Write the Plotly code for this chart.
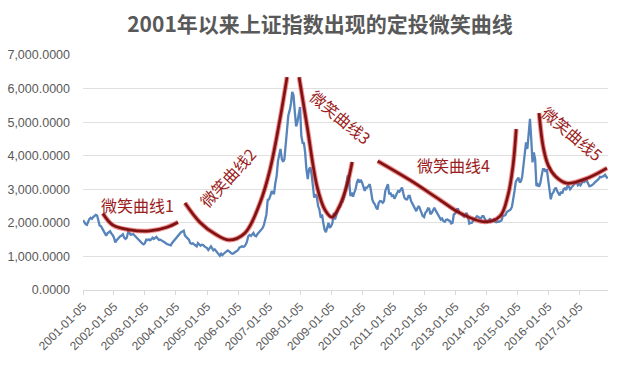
import plotly.graph_objects as go

# Shanghai Composite, semi-monthly readings (5th and 20th of each month)
sh_2001 = [2080, 2010, 1960, 1940, 2050, 2110, 2150, 2120, 2170, 2210, 2240, 2220,
           2100, 1920, 1900, 1830, 1780, 1720, 1620, 1690, 1720, 1750, 1680, 1640]
sh_2002 = [1560, 1420, 1480, 1525, 1560, 1600, 1620, 1660, 1560, 1520, 1560, 1730,
           1700, 1650, 1660, 1670, 1620, 1580, 1530, 1500, 1470, 1420, 1380, 1360]
sh_2003 = [1400, 1500, 1490, 1510, 1480, 1510, 1560, 1520, 1550, 1580, 1530, 1490,
           1500, 1480, 1450, 1420, 1400, 1370, 1360, 1350, 1330, 1400, 1450, 1500]
sh_2004 = [1550, 1590, 1650, 1680, 1720, 1740, 1770, 1620, 1580, 1560, 1500, 1400,
           1380, 1390, 1350, 1340, 1300, 1400, 1370, 1320, 1350, 1340, 1300, 1270]
sh_2005 = [1250, 1190, 1250, 1300, 1250, 1180, 1210, 1160, 1110, 1060, 1020, 1080,
           1040, 1080, 1120, 1160, 1180, 1155, 1110, 1090, 1080, 1100, 1120, 1160]
sh_2006 = [1190, 1260, 1280, 1300, 1290, 1300, 1350, 1440, 1600, 1640, 1610, 1670,
           1700, 1620, 1600, 1660, 1700, 1750, 1800, 1840, 1930, 2100, 2250, 2680]
sh_2007 = [2700, 2800, 2950, 2880, 2880, 3180, 3400, 3840, 4050, 4200, 3900, 3820,
           3900, 4400, 4700, 5200, 5350, 5550, 5900, 5800, 5300, 4870, 5000, 5260]
sh_2008 = [5450, 4600, 4380, 4370, 4100, 3600, 3300, 3600, 3650, 3450, 3050, 2750,
           2850, 2780, 2500, 2400, 2150, 2250, 2000, 1800, 1720, 1900, 2000, 1850]
sh_2009 = [1900, 1990, 2300, 2100, 2200, 2370, 2450, 2480, 2600, 2630, 2750, 2960,
           3200, 3410, 3300, 2800, 2900, 2780, 2900, 3000, 3200, 3300, 3200, 3280]
sh_2010 = [3200, 3100, 2950, 3050, 3050, 3100, 3150, 2950, 2700, 2600, 2550, 2450,
           2400, 2600, 2650, 2640, 2600, 2650, 2950, 3050, 3150, 2850, 2900, 2800]
sh_2011 = [2820, 2720, 2800, 2900, 2950, 2930, 2990, 3050, 2880, 2740, 2700, 2700,
           2800, 2800, 2650, 2570, 2500, 2400, 2350, 2450, 2500, 2400, 2300, 2200]
sh_2012 = [2170, 2300, 2350, 2430, 2420, 2260, 2300, 2400, 2450, 2370, 2300, 2230,
           2170, 2100, 2130, 2050, 2030, 2090, 2100, 2070, 2050, 1980, 2000, 2250]
sh_2013 = [2280, 2380, 2430, 2330, 2300, 2240, 2200, 2180, 2220, 2300, 2180, 1980,
           2000, 2000, 2060, 2100, 2150, 2200, 2180, 2140, 2130, 2200, 2200, 2100]
sh_2014 = [2050, 2020, 2070, 2130, 2030, 2050, 2100, 2030, 2020, 2040, 2030, 2040,
           2070, 2200, 2220, 2230, 2320, 2340, 2370, 2400, 2480, 2680, 2950, 3230]
sh_2015 = [3300, 3350, 3200, 3250, 3370, 3690, 4000, 4400, 4200, 4600, 5100, 4500,
           3800, 4100, 3900, 3100, 3150, 3080, 3180, 3400, 3600, 3600, 3520, 3600]
sh_2016 = [3300, 2900, 2700, 2860, 2900, 3000, 3050, 2950, 2900, 2820, 2930, 2880,
           3000, 3030, 2980, 3100, 3080, 3000, 3050, 3100, 3150, 3200, 3230, 3120]
sh_2017 = [3160, 3120, 3200, 3250, 3220, 3250, 3250, 3170, 3090, 3100, 3120, 3150,
           3200, 3240, 3250, 3300, 3370, 3360, 3380, 3390, 3430, 3380, 3320]

years = list(range(2001, 2018))
yearly = [sh_2001, sh_2002, sh_2003, sh_2004, sh_2005, sh_2006, sh_2007, sh_2008, sh_2009,
          sh_2010, sh_2011, sh_2012, sh_2013, sh_2014, sh_2015, sh_2016, sh_2017]

# Hand-drawn "smile curves" (date, index level)
smile1_dates = ["2001-08-27", "2001-12-24", "2002-07-10", "2003-03-01", "2003-09-20", "2004-01-28"]
smile1_vals = [2280, 1930, 1790, 1760, 1870, 2020]
smile2_dates = ["2004-04-20", "2004-10-12", "2005-04-08", "2005-09-20", "2006-03-28",
                "2006-09-20", "2007-01-15", "2007-05-12", "2007-08-05"]
smile2_vals = [2590, 2020, 1670, 1490, 1700, 2590, 3570, 5060, 6340]
smile3_dates = ["2007-12-25", "2008-03-30", "2008-07-25", "2008-10-26", "2009-01-15",
                "2009-04-20", "2009-07-12", "2009-09-10"]
smile3_vals = [6340, 4850, 3065, 2380, 2170, 2530, 3130, 3810]
smile4_dates = ["2010-07-08", "2011-07-25", "2012-07-12", "2013-03-05", "2013-12-20",
                "2014-06-18", "2014-09-20", "2014-11-18", "2014-12-25"]
smile4_vals = [3840, 3270, 2680, 2290, 2030, 2200, 2830, 3720, 4790]
smile5_dates = ["2015-09-20", "2015-11-08", "2016-01-05", "2016-03-30", "2016-08-15",
                "2017-04-10", "2017-11-28"]
smile5_vals = [5270, 4260, 3720, 3390, 3180, 3330, 3630]

smile_labels = ["微笑曲线1", "微笑曲线2", "微笑曲线3", "微笑曲线4", "微笑曲线5"]
label_dates = ["2002-10-12", "2005-09-08", "2009-05-01", "2012-12-20", "2016-10-12"]
label_vals = [2530, 3360, 5150, 3720, 4670]
label_angles = [0, -47, 40, 0, 40]

tick_labels = ["2001-01-05", "2002-01-05", "2003-01-05", "2004-01-05", "2005-01-05",
               "2006-01-05", "2007-01-05", "2008-01-05", "2009-01-05", "2010-01-05",
               "2011-01-05", "2012-01-05", "2013-01-05", "2014-01-05", "2015-01-05",
               "2016-01-05", "2017-01-05"]

title_text = "2001年以来上证指数出现的定投微笑曲线"

# build date list
dates, vals = [], []
for y, vs in zip(years, yearly):
    slots = [f"{y}-{m:02d}-{d}" for m in range(1, 13) for d in ("05", "20")]
    dates.extend(slots[:len(vs)])
    vals.extend(vs)

fig = go.Figure()
fig.add_trace(go.Scatter(x=dates, y=vals, mode="lines",
                         line=dict(color="#5784ba", width=2.3), hoverinfo="skip"))

for dx, dv in [(smile1_dates, smile1_vals), (smile2_dates, smile2_vals),
               (smile3_dates, smile3_vals), (smile4_dates, smile4_vals),
               (smile5_dates, smile5_vals)]:
    fig.add_trace(go.Scatter(x=dx, y=dv, mode="lines",
                             line=dict(color="rgba(225,45,45,0.55)", width=4.8, shape="spline", smoothing=1.0),
                             hoverinfo="skip"))
    fig.add_trace(go.Scatter(x=dx, y=dv, mode="lines",
                             line=dict(color="#7f1212", width=2.7, shape="spline", smoothing=1.0),
                             hoverinfo="skip"))

for t, d, v, a in zip(smile_labels, label_dates, label_vals, label_angles):
    fig.add_annotation(x=d, y=v, text=t, showarrow=False, textangle=a,
                       font=dict(family="Noto Sans CJK SC", size=16, color="#9a1c1c"),
                       xanchor="center", yanchor="middle")

fig.update_layout(
    width=640, height=367,
    margin=dict(l=83, r=32, t=55, b=77),
    paper_bgcolor="white", plot_bgcolor="white",
    showlegend=False,
    title=dict(text=f"<b>{title_text}</b>", x=0.5, xanchor="center", y=0.933, yanchor="middle",
               font=dict(family="Noto Sans CJK SC", size=21, color="#595959")),
    xaxis=dict(type="date", range=["2001-01-05", "2017-12-10"],
               tickvals=tick_labels, ticktext=tick_labels, tickangle=-45,
               tickfont=dict(family="Liberation Sans", size=12, color="#595959"),
               showgrid=False, showline=True, linecolor="#d9d9d9", linewidth=1,
               ticks="outside", ticklen=4, tickcolor="#d9d9d9", automargin=False,
               zeroline=False),
    yaxis=dict(range=[0, 7000], dtick=1000, tickformat=",.4f",
               tickfont=dict(family="Liberation Sans", size=12.5, color="#595959"),
               showgrid=True, gridcolor="#e0e0e0", gridwidth=1, zeroline=False,
               showline=False, automargin=False, ticks="", ticklabelstandoff=12),
)

fig.write_html("out.html", config={"displayModeBar": False},
               post_script="document.body.style.margin='0';")
